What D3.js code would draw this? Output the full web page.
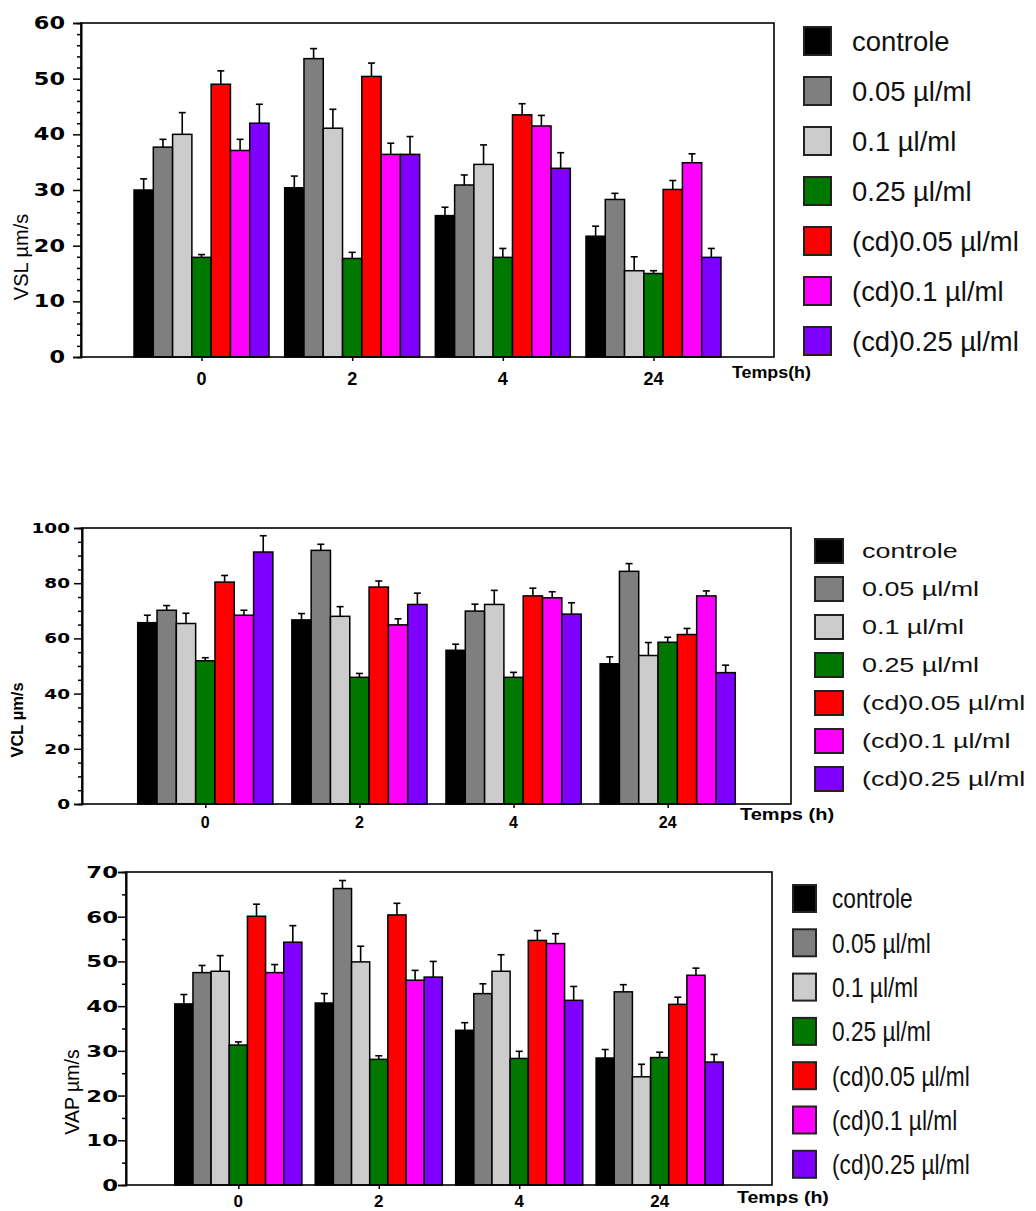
<!DOCTYPE html>
<html><head><meta charset="utf-8">
<script src="https://cdn.jsdelivr.net/npm/d3@7"></script>
<style>body{margin:0;background:#fff}svg{display:block}</style>
</head><body>
<svg id="c" width="1036" height="1211"></svg>
<script>
// ---------- DATA ----------
const timePoints = ["0", "2", "4", "24"];
const seriesNames = ["controle", "0.05 µl/ml", "0.1 µl/ml", "0.25 µl/ml", "(cd)0.05 µl/ml", "(cd)0.1 µl/ml", "(cd)0.25 µl/ml"];
const seriesColors = ["#000000", "#7f7f7f", "#cccccc", "#007800", "#ff0000", "#ff00ff", "#8000ff"];

// VSL (one row per series, one value per time point)
const vslValues = [
  [30.0, 30.4, 25.4, 21.7],
  [37.7, 53.6, 30.9, 28.3],
  [40.0, 41.1, 34.6, 15.5],
  [17.9, 17.7, 17.9, 15.0],
  [49.0, 50.4, 43.5, 30.1],
  [37.1, 36.4, 41.5, 34.9],
  [42.0, 36.4, 33.9, 17.9]
];
const vslErrors = [
  [2.0, 2.1, 1.5, 1.8],
  [1.4, 1.8, 1.8, 1.1],
  [3.9, 3.4, 3.5, 2.5],
  [0.5, 1.1, 1.6, 0.5],
  [2.4, 2.4, 2.0, 1.6],
  [2.0, 2.0, 1.9, 1.6],
  [3.4, 3.2, 2.8, 1.6]
];
// VCL
const vclValues = [
  [65.7, 66.7, 55.7, 50.8],
  [70.2, 91.9, 69.9, 84.3],
  [65.4, 68.0, 72.3, 53.8],
  [51.9, 45.9, 45.9, 58.6],
  [80.4, 78.6, 75.4, 61.4],
  [68.4, 64.9, 74.7, 75.4],
  [91.3, 72.3, 68.8, 47.6]
];
const vclErrors = [
  [2.7, 2.3, 2.2, 2.5],
  [1.7, 2.2, 2.5, 2.8],
  [3.7, 3.5, 5.1, 4.7],
  [1.1, 1.4, 1.8, 1.8],
  [2.4, 2.2, 2.8, 2.2],
  [1.8, 2.2, 2.2, 1.8],
  [5.9, 4.1, 4.1, 2.7]
];
// VAP
const vapValues = [
  [40.5, 40.7, 34.6, 28.4],
  [47.5, 66.3, 42.8, 43.2],
  [47.8, 49.9, 47.8, 24.2],
  [31.3, 28.1, 28.3, 28.5],
  [60.1, 60.4, 54.7, 40.4],
  [47.5, 45.8, 54.0, 46.9],
  [54.3, 46.5, 41.3, 27.5]
];
const vapErrors = [
  [2.1, 2.1, 1.7, 1.9],
  [1.6, 1.8, 2.2, 1.6],
  [3.5, 3.5, 3.7, 2.8],
  [0.7, 0.8, 1.6, 1.2],
  [2.7, 2.6, 2.2, 1.6],
  [1.8, 2.2, 2.2, 1.6],
  [3.7, 3.5, 3.1, 1.7]
];
const vslTicks = [0, 10, 20, 30, 40, 50, 60];
const vclTicks = [0, 20, 40, 60, 80, 100];
const vapTicks = [0, 10, 20, 30, 40, 50, 60, 70];

// ---------- LAYOUT ----------
const svg = d3.select("#c");

const charts = [
  { values: vslValues, errors: vslErrors, ticks: vslTicks, minorStep: 2, yTitle: "VSL µm/s", xTitle: "Temps(h)",
    left: 81, top: 23, right: 774, bottom: 357, groupFrac: 0.896,
    yLab: { end: 65, size: 17, sx: 1.32 }, xLab: { size: 18, dy: 28 },
    yT: { x: 21, y: 257, size: 20, weight: "normal" },
    xT: { x: 732, y: 378, size: 17, sx: 1.05 },
    leg: { x: 804, top: 27, w: 27, h: 28, gap: 50, tx: 852, size: 28, sx: 0.98 } },
  { values: vclValues, errors: vclErrors, ticks: vclTicks, minorStep: 5, yTitle: "VCL µm/s", xTitle: "Temps (h)",
    left: 82, top: 528, right: 791, bottom: 804, groupFrac: 0.877,
    yLab: { end: 70, size: 14, sx: 1.32 }, xLab: { size: 16, dy: 24 },
    yT: { x: 17, y: 720, size: 16.5, weight: "bold" },
    xT: { x: 740, y: 820, size: 16, sx: 1.25 },
    leg: { x: 815, top: 539, w: 28, h: 24, gap: 38, tx: 862, size: 21, sx: 1.28 } },
  { values: vapValues, errors: vapErrors, ticks: vapTicks, minorStep: 5, yTitle: "VAP µm/s", xTitle: "Temps (h)",
    left: 126, top: 872, right: 772, bottom: 1185, groupFrac: 0.905,
    yLab: { end: 118, size: 16.5, sx: 1.38 }, xLab: { size: 17, dy: 22 },
    yT: { x: 72, y: 1092, size: 19.5, weight: "normal" },
    xT: { x: 737, y: 1203, size: 17, sx: 1.15 },
    leg: { x: 793, top: 885, w: 23, h: 27, gap: 44.3, tx: 832, size: 28, sx: 0.81 } }
];

function drawChart(c) {
  const g = svg.append("g");
  const yMax = d3.max(c.ticks);
  const y = d3.scaleLinear().domain([0, yMax]).range([c.bottom, c.top]);
  const x = d3.scalePoint().domain(timePoints).range([c.left, c.right]).padding(0.8);
  const groupW = x.step() * c.groupFrac;
  const inner = d3.scaleBand().domain(d3.range(seriesNames.length)).range([0, groupW]);

  // bars
  const rows = [];
  c.values.forEach((row, si) => row.forEach((v, ti) => rows.push({ si, t: timePoints[ti], v, e: c.errors[si][ti] })));
  g.selectAll("rect.bar").data(rows).join("rect")
    .attr("x", d => x(d.t) - groupW / 2 + inner(d.si))
    .attr("y", d => y(d.v))
    .attr("width", inner.bandwidth())
    .attr("height", d => y(0) - y(d.v))
    .attr("fill", d => seriesColors[d.si])
    .attr("stroke", "#000").attr("stroke-width", 1.5);

  // error bars (upper only)
  const cx = d => x(d.t) - groupW / 2 + inner(d.si) + inner.bandwidth() / 2;
  const eg = g.selectAll("g.err").data(rows).join("g").attr("stroke", "#000").attr("stroke-width", 1.6);
  eg.append("line").attr("x1", cx).attr("x2", cx)
    .attr("y1", d => y(d.v)).attr("y2", d => y(d.v + d.e));
  eg.append("line").attr("x1", d => cx(d) - 3.5).attr("x2", d => cx(d) + 3.5)
    .attr("y1", d => y(d.v + d.e)).attr("y2", d => y(d.v + d.e));

  // frame
  g.append("rect").attr("x", c.left).attr("y", c.top).attr("width", c.right - c.left).attr("height", c.bottom - c.top)
    .attr("fill", "none").attr("stroke", "#000").attr("stroke-width", 1.6);

  // y axis: major + minor ticks
  const minorVals = d3.range(0, yMax + 0.001, c.minorStep).filter(v => !c.ticks.includes(v));
  const ya = g.append("g").attr("transform", `translate(${c.left},0)`)
    .call(d3.axisLeft(y).tickValues(c.ticks).tickSize(8).tickFormat(""));
  const ym = g.append("g").attr("transform", `translate(${c.left},0)`)
    .call(d3.axisLeft(y).tickValues(minorVals).tickSize(4).tickFormat(""));
  [ya, ym].forEach(a => { a.select(".domain").attr("stroke-width", 1.6); a.selectAll(".tick line").attr("stroke-width", 1.5); });

  g.selectAll("text.ylab").data(c.ticks).join("text")
    .attr("transform", d => `translate(${c.yLab.end},${y(d)}) scale(${c.yLab.sx},1)`)
    .attr("text-anchor", "end").attr("dy", "0.36em")
    .style("font-family", "DejaVu Sans").style("font-weight", "bold").style("font-size", c.yLab.size + "px")
    .text(d => d);

  // x axis
  const xa = g.append("g").attr("transform", `translate(0,${c.bottom})`)
    .call(d3.axisBottom(x).tickSize(4).tickFormat(""));
  xa.select(".domain").remove();
  xa.selectAll(".tick line").attr("stroke-width", 1.5);
  g.selectAll("text.xlab").data(timePoints).join("text")
    .attr("x", d => x(d)).attr("y", c.bottom + c.xLab.dy)
    .attr("text-anchor", "middle")
    .style("font-family", "Liberation Sans, Arial").style("font-weight", "bold").style("font-size", c.xLab.size + "px")
    .text(d => d);

  g.append("text")
    .attr("transform", `translate(${c.xT.x},${c.xT.y}) scale(${c.xT.sx},1)`)
    .style("font-family", "Liberation Sans, Arial").style("font-weight", "bold").style("font-size", c.xT.size + "px")
    .text(c.xTitle);

  g.append("text")
    .attr("transform", `translate(${c.yT.x},${c.yT.y}) rotate(-90)`)
    .attr("text-anchor", "middle").attr("dy", "0.35em")
    .style("font-family", "Liberation Sans, Arial").style("font-weight", c.yT.weight).style("font-size", c.yT.size + "px")
    .text(c.yTitle);

  // legend
  const lg = g.selectAll("g.leg").data(seriesNames).join("g")
    .attr("transform", (d, i) => `translate(0,${c.leg.top + i * c.leg.gap})`);
  lg.append("rect").attr("x", c.leg.x).attr("y", 0).attr("width", c.leg.w).attr("height", c.leg.h)
    .attr("fill", (d, i) => seriesColors[i]).attr("stroke", "#222").attr("stroke-width", 2);
  lg.append("text")
    .attr("transform", `translate(${c.leg.tx},${c.leg.h / 2}) scale(${c.leg.sx},1)`)
    .attr("dy", "0.35em")
    .style("font-family", "Liberation Sans, Arial").style("font-size", c.leg.size + "px").attr("fill", "#111")
    .text(d => d);
}

charts.forEach(drawChart);
</script>
</body></html>
